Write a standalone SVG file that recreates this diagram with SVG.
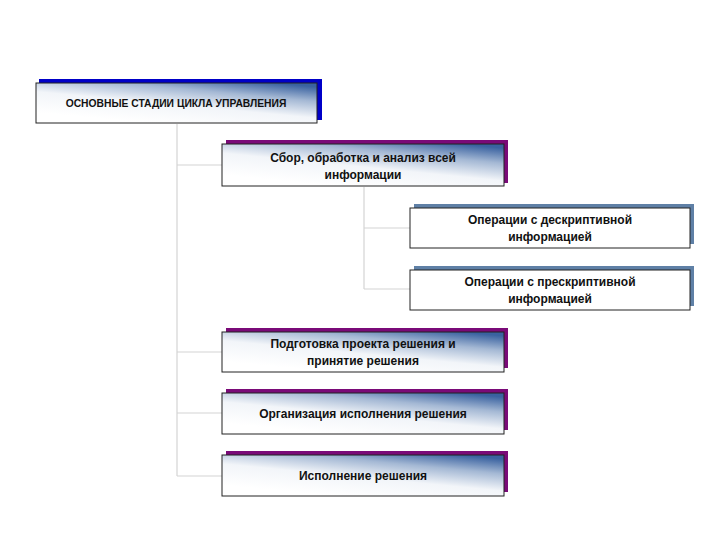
<svg xmlns="http://www.w3.org/2000/svg" width="720" height="540" viewBox="0 0 720 540">
<defs>
<linearGradient id="g" x1="0.4" y1="1" x2="1" y2="0.1">
<stop offset="0" stop-color="#ffffff"/>
<stop offset="0.4" stop-color="#f2f5f9"/>
<stop offset="0.72" stop-color="#a4b8d4"/>
<stop offset="1" stop-color="#3a62a0"/>
</linearGradient>
<style>
.box{stroke:#222;stroke-width:1}
.gr{fill:url(#g)}
.wh{fill:#fff}
.sb{fill:#0000c8}
.sp{fill:#7a0a78}
.sg{fill:#5f80a6}
.t{font-family:"Liberation Sans",Arial,sans-serif;font-size:12px;font-weight:bold;fill:#111;text-anchor:middle}
.t1{font-size:10.3px}
.c{stroke:#d4d4d4;stroke-width:1.2;fill:none}
</style>
</defs>
<rect width="720" height="540" fill="#fff"/>
<g id="connectors">
<path class="c" d="M177 124 V476 M177 165 H222 M177 352 H222 M177 413 H222 M177 476 H222"/>
<path class="c" d="M364 187 V289 M364 228 H410 M364 289 H410"/>
</g>
<g id="n1">
<rect class="sb" x="39" y="79" width="283" height="41"/>
<rect class="box gr" x="36" y="83" width="281" height="40"/>
<text class="t t1" x="176" y="107">ОСНОВНЫЕ СТАДИИ ЦИКЛА УПРАВЛЕНИЯ</text>
</g>
<g id="n2">
<rect class="sp" x="226" y="140" width="282" height="43"/>
<rect class="box gr" x="222" y="144" width="282" height="42"/>
<text class="t" x="363" y="162">Сбор, обработка и анализ всей</text>
<text class="t" x="363" y="179">информации</text>
</g>
<g id="n3">
<rect class="sg" x="414" y="204" width="280" height="40"/>
<rect class="box wh" x="410" y="208" width="280" height="40"/>
<text class="t" x="550" y="224">Операции с дескриптивной</text>
<text class="t" x="550" y="241">информацией</text>
</g>
<g id="n4">
<rect class="sg" x="414" y="266" width="280" height="40"/>
<rect class="box wh" x="410" y="270" width="280" height="40"/>
<text class="t" x="550" y="286">Операции с прескриптивной</text>
<text class="t" x="550" y="303">информацией</text>
</g>
<g id="n5">
<rect class="sp" x="226" y="328" width="282" height="40"/>
<rect class="box gr" x="222" y="332" width="282" height="40"/>
<text class="t" x="363" y="348">Подготовка проекта решения и</text>
<text class="t" x="363" y="365">принятие решения</text>
</g>
<g id="n6">
<rect class="sp" x="226" y="389" width="282" height="41"/>
<rect class="box gr" x="222" y="393" width="282" height="41"/>
<text class="t" x="363" y="418">Организация исполнения решения</text>
</g>
<g id="n7">
<rect class="sp" x="226" y="451" width="282" height="41"/>
<rect class="box gr" x="222" y="455" width="282" height="41"/>
<text class="t" x="363" y="480">Исполнение решения</text>
</g>
</svg>
